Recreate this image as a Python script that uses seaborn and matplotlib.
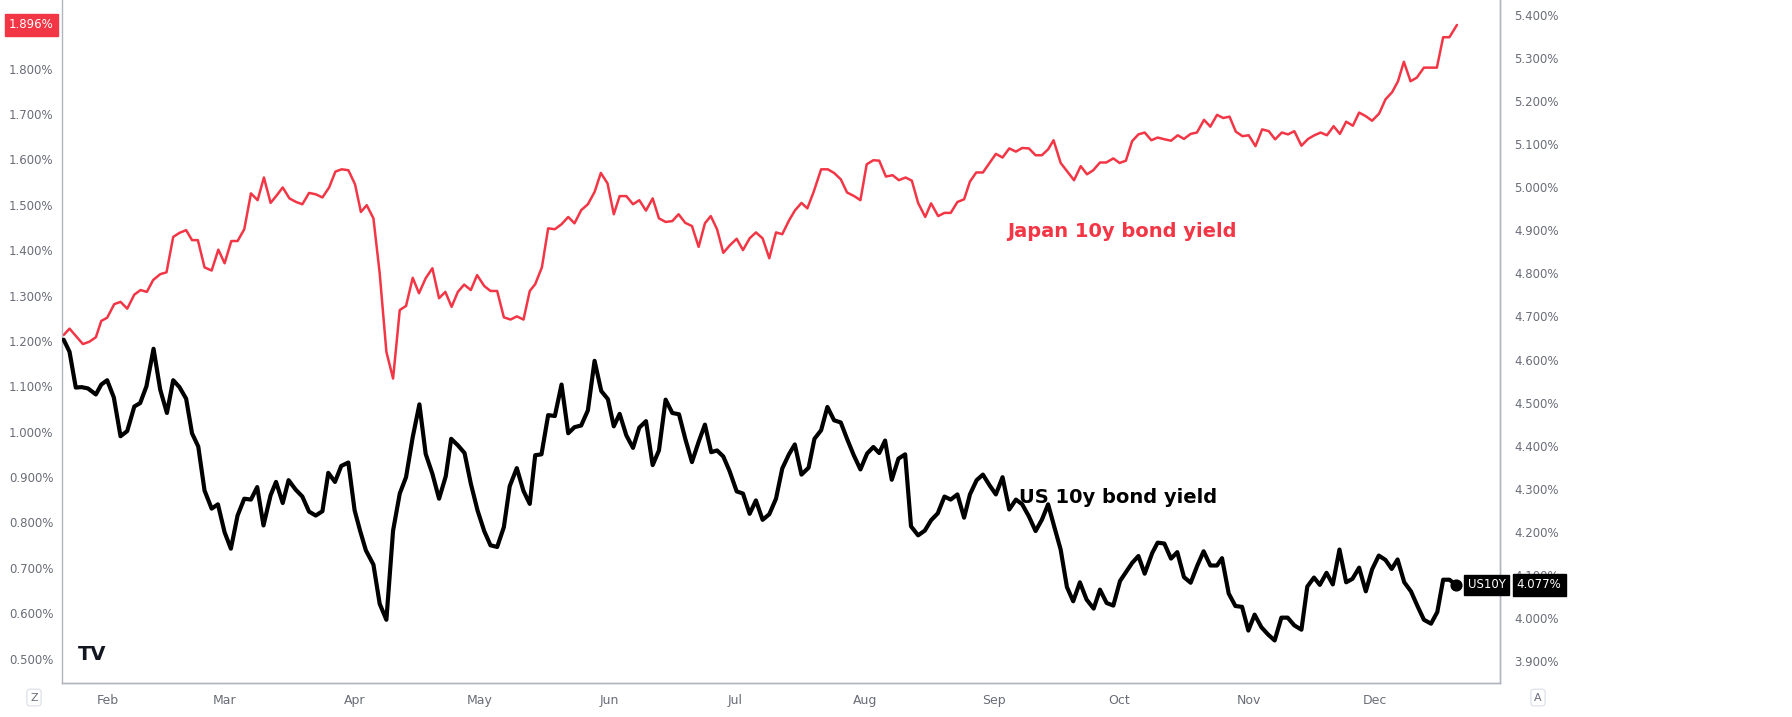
import numpy as np
import pandas as pd
import matplotlib
matplotlib.use("Agg")
import matplotlib.pyplot as plt
import seaborn as sns

start_date = "2025-01-21"
jp_days = [0.4,1.8,5.0,6.5,8.1,9.4,10.8,12.5,14.0,15.6,17.3,18.8,20.3,21.8,23.5,25.0,26.6,28.1,29.7,31.1,32.5,34.1,35.8,37.4,38.9,40.5,42.0,43.6,45.2,46.8,48.3,49.9,51.4,52.8,54.4,56.0,57.5,59.1,60.7,62.3,63.9,65.4,66.9,68.5,70.1,71.5,72.9,74.5,76.0,77.6,79.2,80.8,82.3,83.9,85.4,87.0,88.6,90.2,91.7,93.2,94.7,96.2,97.8,99.3,101.0,102.5,104.1,105.7,107.3,108.8,110.4,111.9,113.2,114.8,116.3,117.9,119.5,121.1,122.6,124.2,125.8,127.4,128.9,130.5,132.0,133.4,135.0,136.6,138.1,139.7,141.3,142.8,144.4,146.0,147.5,149.1,150.7,152.3,153.8,155.2,156.7,158.2,159.8,161.4,162.9,164.5,166.0,167.6,169.2,170.8,172.3,173.9,175.3,176.9,178.3,179.8,181.6,183.2,184.7,186.3,187.8,189.5,191.0,192.5,194.1,195.5,197.1,198.7,200.2,201.8,203.3,204.8,206.5,207.9,209.6,211.1,212.6,214.2,215.8,217.2,218.7,220.3,221.8,223.4,225.0,226.6,228.2,229.7,231.3,232.9,234.4,235.9,237.2,238.9,240.5,242.1,243.7,245.2,246.7,248.3,249.8,251.5,253.0,254.5,256.0,257.5,259.0,260.6,262.1,263.8,265.3,266.9,268.4,270.0,271.5,273.2,274.7,276.3,277.8,279.3,280.8,282.4,283.9,285.5,287.1,288.7,290.2,291.8,293.3,294.8,296.5,298.1,299.6,301.1,302.6,304.2,305.7,307.2,308.8,310.3,311.9,313.4,315.1,316.6,318.2,319.6,321.0,322.6,324.1,325.8,327.3,328.9,330.4,331.9,333.7]
jp_yield = [1.213,1.227,1.193,1.198,1.208,1.244,1.251,1.281,1.286,1.271,1.302,1.312,1.308,1.334,1.347,1.351,1.429,1.438,1.444,1.422,1.422,1.362,1.355,1.401,1.371,1.420,1.420,1.446,1.525,1.510,1.560,1.504,1.521,1.538,1.514,1.506,1.501,1.526,1.523,1.516,1.538,1.573,1.578,1.576,1.545,1.484,1.499,1.470,1.349,1.176,1.117,1.268,1.277,1.339,1.305,1.338,1.360,1.294,1.308,1.275,1.308,1.324,1.312,1.345,1.321,1.310,1.310,1.252,1.247,1.254,1.247,1.310,1.325,1.362,1.448,1.446,1.457,1.473,1.459,1.488,1.501,1.528,1.570,1.547,1.479,1.519,1.519,1.501,1.510,1.487,1.514,1.470,1.462,1.464,1.479,1.460,1.453,1.407,1.459,1.475,1.446,1.394,1.411,1.425,1.400,1.426,1.439,1.426,1.382,1.439,1.435,1.465,1.487,1.504,1.492,1.528,1.578,1.578,1.570,1.556,1.527,1.519,1.510,1.589,1.598,1.597,1.562,1.565,1.554,1.560,1.553,1.504,1.473,1.503,1.475,1.482,1.482,1.506,1.512,1.551,1.571,1.571,1.591,1.612,1.604,1.624,1.617,1.625,1.624,1.609,1.609,1.622,1.642,1.592,1.573,1.554,1.585,1.567,1.576,1.593,1.593,1.602,1.592,1.597,1.640,1.655,1.659,1.642,1.648,1.644,1.641,1.653,1.645,1.656,1.659,1.687,1.672,1.698,1.691,1.694,1.661,1.651,1.653,1.629,1.666,1.662,1.644,1.659,1.655,1.662,1.630,1.645,1.653,1.659,1.653,1.673,1.656,1.683,1.674,1.703,1.695,1.685,1.701,1.732,1.748,1.772,1.815,1.772,1.780,1.802,1.802,1.802,1.869,1.869,1.896]

us_days = [0.4,1.8,3.3,4.7,6.2,8.1,9.4,10.8,12.4,14.0,15.6,17.3,18.7,20.2,21.9,23.5,25.1,26.6,28.1,29.7,31.1,32.6,34.1,35.8,37.3,38.9,40.4,42.0,43.6,45.2,46.7,48.2,49.9,51.2,52.8,54.2,55.9,57.5,59.1,60.7,62.3,63.7,65.3,66.8,68.5,70.0,71.3,72.7,74.5,76.0,77.6,79.2,80.8,82.3,83.9,85.5,87.0,88.6,90.2,91.8,93.1,94.7,96.3,97.8,99.4,101.0,102.5,104.1,105.7,107.1,108.8,110.4,111.9,113.2,114.7,116.3,117.9,119.5,121.1,122.6,124.2,125.8,127.4,129.0,130.6,132.0,133.4,135.0,136.6,138.1,139.7,141.3,142.8,144.4,146.0,147.6,149.1,150.7,152.3,153.8,155.3,156.7,158.2,159.7,161.4,162.9,164.5,166.0,167.6,169.2,170.8,172.3,173.9,175.3,176.9,178.6,180.0,181.6,183.1,184.7,186.3,187.8,189.4,191.0,192.6,194.1,195.5,196.9,198.5,200.1,201.7,203.1,204.8,206.4,207.9,209.5,211.1,212.6,214.2,215.8,217.2,218.8,220.3,221.9,223.4,225.0,226.6,228.2,229.7,231.3,232.9,234.4,235.9,237.4,238.9,240.4,241.9,243.5,245.1,246.8,248.3,249.9,251.5,253.1,254.7,256.0,257.5,259.0,260.8,262.1,263.7,265.3,266.8,268.4,270.0,271.6,273.1,274.7,276.3,277.5,279.1,280.7,282.3,283.8,285.3,286.9,288.5,290.1,291.7,293.2,294.8,296.5,297.9,299.5,300.9,302.5,304.0,305.6,307.2,308.7,310.3,311.9,313.4,315.0,316.6,318.1,319.5,321.1,322.7,324.3,325.8,327.5,329.0,330.4,331.9,333.5]
us_yield = [4.646,4.618,4.535,4.536,4.533,4.519,4.542,4.552,4.512,4.422,4.434,4.491,4.499,4.538,4.625,4.530,4.476,4.552,4.536,4.509,4.429,4.398,4.296,4.254,4.264,4.199,4.161,4.238,4.277,4.275,4.304,4.215,4.285,4.316,4.267,4.320,4.298,4.282,4.247,4.238,4.248,4.337,4.316,4.353,4.361,4.250,4.203,4.157,4.124,4.033,3.996,4.203,4.289,4.327,4.420,4.496,4.381,4.335,4.277,4.329,4.416,4.401,4.383,4.312,4.250,4.202,4.169,4.165,4.211,4.306,4.348,4.295,4.265,4.378,4.380,4.471,4.469,4.542,4.429,4.443,4.447,4.482,4.597,4.527,4.508,4.445,4.474,4.424,4.395,4.442,4.457,4.355,4.389,4.507,4.476,4.473,4.416,4.362,4.409,4.449,4.385,4.389,4.375,4.341,4.294,4.289,4.242,4.273,4.228,4.241,4.277,4.347,4.380,4.403,4.333,4.349,4.416,4.436,4.490,4.459,4.454,4.416,4.378,4.345,4.382,4.397,4.383,4.412,4.321,4.370,4.380,4.213,4.192,4.203,4.227,4.243,4.282,4.275,4.287,4.233,4.287,4.320,4.333,4.308,4.287,4.327,4.252,4.275,4.264,4.236,4.202,4.228,4.264,4.211,4.159,4.072,4.039,4.083,4.043,4.022,4.066,4.035,4.029,4.086,4.109,4.128,4.144,4.103,4.151,4.175,4.173,4.138,4.153,4.095,4.082,4.122,4.155,4.122,4.122,4.139,4.057,4.028,4.026,3.971,4.008,3.979,3.962,3.948,4.001,4.001,3.983,3.973,4.073,4.094,4.077,4.105,4.078,4.159,4.083,4.091,4.117,4.062,4.113,4.145,4.135,4.114,4.136,4.083,4.062,4.027,3.996,3.987,4.014,4.089,4.089,4.077]

jp_ticks = [0.5,0.6,0.7,0.8,0.9,1.0,1.1,1.2,1.3,1.4,1.5,1.6,1.7,1.8]
us_ticks = [3.9,4.0,4.1,4.2,4.3,4.4,4.5,4.6,4.7,4.8,4.9,5.0,5.1,5.2,5.3,5.4]
month_labels = ["Feb","Mar","Apr","May","Jun","Jul","Aug","Sep","Oct","Nov","Dec"]
month_starts = ["2025-02-01","2025-03-01","2025-04-01","2025-05-01","2025-06-01","2025-07-01",
                "2025-08-01","2025-09-01","2025-10-01","2025-11-01","2025-12-01"]

base = pd.Timestamp(start_date)
jp = pd.DataFrame({"date": base + pd.to_timedelta(jp_days, unit="D"), "y": jp_yield})
us = pd.DataFrame({"date": base + pd.to_timedelta(us_days, unit="D"), "y": us_yield})

RED = "#f23645"
GRAY = "#6a6d78"
sns.set_style("white")
plt.rcParams["font.family"] = ["DejaVu Sans"]

fig = plt.figure(figsize=(17.92, 7.17), dpi=100)
L, R = 62/1792, 1500/1792
B = 1 - 597/627
ax = fig.add_axes([L, B, R - L, 1 - B])
ax2 = ax.twinx()

sns.lineplot(data=jp, x="date", y="y", ax=ax, color=RED, lw=1.8)
sns.lineplot(data=us, x="date", y="y", ax=ax2, color="black", lw=3.0)

ax.set_ylim(0.447, 1.951)
ax2.set_ylim(3.850, 5.4345)
ax.set_xlim(base, base + pd.Timedelta(days=344))

ax.set_yticks(jp_ticks)
ax.set_yticklabels([f"{v:.3f}%" for v in jp_ticks], color=GRAY, fontsize=8.5)
ax2.set_yticks(us_ticks)
ax2.set_yticklabels([f"{v:.3f}%" for v in us_ticks], color=GRAY, fontsize=8.5)
ax.tick_params(axis="y", length=0, pad=6)
ax2.tick_params(axis="y", length=0, pad=10)
for a in (ax, ax2):
    a.set_xlabel(""); a.set_ylabel("")

ax.set_xticks(pd.to_datetime(month_starts))
ax.set_xticklabels(month_labels, color=GRAY, fontsize=9)
ax.tick_params(axis="x", length=0, pad=8)

for a in (ax, ax2):
    a.spines["top"].set_visible(False)
    for s in ("left", "right", "bottom"):
        a.spines[s].set_color("#b2b5be")
        a.spines[s].set_linewidth(1.0)
ax2.spines["left"].set_visible(False)

# last value labels
ax.annotate(f"{jp_yield[-1]:.3f}%", xy=(0, jp_yield[-1]), xycoords=("axes fraction", "data"),
            xytext=(-6, 0), textcoords="offset points", ha="right", va="center",
            color="white", fontsize=8.5,
            bbox=dict(boxstyle="square,pad=0.35", fc=RED, ec=RED))
ax2.scatter([us["date"].iloc[-1]], [us_yield[-1]], s=60, color="black", zorder=5)
ax2.annotate(f"{us_yield[-1]:.3f}%", xy=(1, us_yield[-1]), xycoords=("axes fraction", "data"),
             xytext=(12, 0), textcoords="offset points", ha="left", va="center",
             color="white", fontsize=8.5,
             bbox=dict(boxstyle="square,pad=0.35", fc="black", ec="black"))
ax2.annotate("US10Y", xy=(1, us_yield[-1]), xycoords=("axes fraction", "data"),
             xytext=(4, 0), textcoords="offset points", ha="right", va="center",
             color="white", fontsize=8.5,
             bbox=dict(boxstyle="square,pad=0.3", fc="black", ec="black"))

# series annotations
ax.text(pd.Timestamp("2025-12-08") - pd.Timedelta(days=95), 1.44, "Japan 10y bond yield",
        color=RED, fontsize=14, fontweight="bold", va="center")
ax2.text(pd.Timestamp("2025-12-08") - pd.Timedelta(days=92), 4.28, "US 10y bond yield",
         color="black", fontsize=14, fontweight="bold", va="center")

# logo and corner markers
fig.text(78/1792, 1 - 572/627, "TV", fontsize=14, fontweight="bold", color="#131722", va="center")
fig.text(34/1792, 1 - 610/627, "Z", fontsize=8, color=GRAY, ha="center", va="center",
         bbox=dict(boxstyle="round,pad=0.3", fc="white", ec="#e0e3eb"))
fig.text(1538/1792, 1 - 610/627, "A", fontsize=8, color=GRAY, ha="center", va="center",
         bbox=dict(boxstyle="round,pad=0.3", fc="white", ec="#e0e3eb"))

fig.savefig("out.png", dpi=100)
